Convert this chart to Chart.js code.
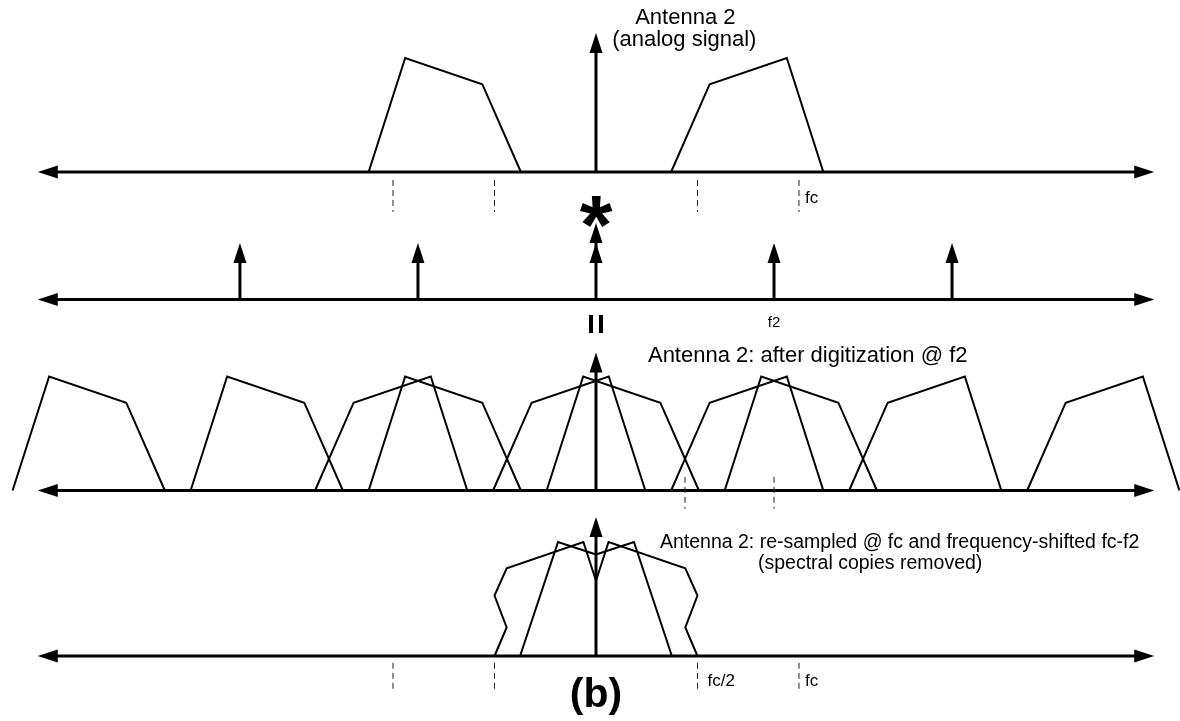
<!DOCTYPE html>
<html>
<head>
<meta charset="utf-8">
<title>Antenna 2 spectra</title>
<script src="https://cdn.jsdelivr.net/npm/chart.js@4.4.1/dist/chart.umd.min.js"></script>
<style>
  html, body { margin: 0; padding: 0; background: #fff; }
  #wrap { position: relative; width: 1180px; height: 721px; }
</style>
</head>
<body>
<div id="wrap"><canvas id="spectra"></canvas></div>
<script>
// frequency in units where fc = 100, amplitude in units where the band peak = 100
const fc = 100;
const f2 = 87.7;

// analog band above 0 Hz and its mirror below
const upperBandX = [37, 56, 94, 112];
const upperBandY = [0, 77, 100, 0];
const lowerBandX = [-112, -94, -56, -37];
const lowerBandY = [0, 100, 77, 0];

// after digitization @ f2 the band repeats at these multiples of f2
const copyOrders = [-2, -1, 0, 1, 2];

// sampling impulse train
const impulseOrders = [-2, -1, 1, 2];
const impulseHeight = 49.5;
const dcImpulseHeights = [49.5, 67];

// re-sampled @ fc and shifted by fc-f2 (copies removed)
const shiftOuterLowX = [-50, -44, -50, -44, -6.2, 0];
const shiftOuterLowY = [0, 25, 53, 77, 100, 66];
const shiftInnerLowX = [-37.4, -18.7, 0];
const shiftInnerLowY = [0, 100, 89];
const shiftInnerHighX = [0, 18.7, 37.4];
const shiftInnerHighY = [89, 100, 0];
const shiftOuterHighX = [0, 6.2, 44, 50, 44, 50];
const shiftOuterHighY = [66, 100, 77, 53, 25, 0];

// dashed frequency markers
const bandTicks = [-fc, -fc / 2, fc / 2, fc];
const sampleTicks = [f2 / 2, f2];

// 0 Hz arrow heights per panel
const dcArrowHeights = { p1: 122, p3: 121, p4: 122 };

const AXIS_END = 275;
const FONT = '"Liberation Sans", Arial, sans-serif';

// each panel gets its own amplitude scale, all spanning the full canvas height
const H = 721;
const PX_PER_UNIT = 1.14;
const panelBase = { p1: 172, p2: 299.5, p3: 490.5, p4: 656 };
const panelScale = b => ({
    type: 'linear', axis: 'y', position: 'left', display: false,
    min: -(H - b) / PX_PER_UNIT, max: b / PX_PER_UNIT
});

const xy = (xs, ys, dx = 0) => xs.map((x, i) => ({ x: x + dx, y: ys[i] }));
const trace = (data, panel) => ({
    data, yAxisID: panel,
    borderColor: '#000', borderWidth: 2,
    pointRadius: 0, showLine: true, fill: false, tension: 0
});

const datasets = [
    trace(xy(lowerBandX, lowerBandY), 'p1'),
    trace(xy(upperBandX, upperBandY), 'p1')
];
copyOrders.forEach(k => {
    datasets.push(trace(xy(lowerBandX, lowerBandY, k * f2), 'p3'));
    datasets.push(trace(xy(upperBandX, upperBandY, k * f2), 'p3'));
});
datasets.push(
    trace(xy(shiftOuterLowX, shiftOuterLowY), 'p4'),
    trace(xy(shiftInnerLowX, shiftInnerLowY), 'p4'),
    trace(xy(shiftInnerHighX, shiftInnerHighY), 'p4'),
    trace(xy(shiftOuterHighX, shiftOuterHighY), 'p4')
);

function head(ctx, tx, ty, dx, dy) {
    const len = 20, half = 6.5;
    const bx = tx - dx * len, by = ty - dy * len;
    ctx.beginPath();
    ctx.moveTo(tx, ty);
    ctx.lineTo(bx - dy * half, by + dx * half);
    ctx.lineTo(bx + dy * half, by - dx * half);
    ctx.closePath();
    ctx.fill();
}

function seg(ctx, x1, y1, x2, y2, w) {
    ctx.lineWidth = w;
    ctx.beginPath();
    ctx.moveTo(x1, y1);
    ctx.lineTo(x2, y2);
    ctx.stroke();
}

const diagram = {
    id: 'diagram',
    afterDatasetsDraw(chart) {
        const { ctx, scales } = chart;
        const px = v => scales.x.getPixelForValue(v);
        const py = (p, v) => scales[p].getPixelForValue(v);
        const text = (s, x, y, font, align = 'left') => {
            ctx.font = font;
            ctx.textAlign = align;
            ctx.textBaseline = 'alphabetic';
            ctx.fillText(s, x, y);
        };

        ctx.save();
        ctx.fillStyle = '#000';
        ctx.strokeStyle = '#000';
        ctx.lineCap = 'butt';

        // frequency axes with arrows at both ends
        Object.keys(panelBase).forEach(p => {
            const y0 = py(p, 0);
            seg(ctx, px(-AXIS_END) + 10, y0, px(AXIS_END) - 10, y0, 3);
            head(ctx, px(-AXIS_END), y0, -1, 0);
            head(ctx, px(AXIS_END), y0, 1, 0);
        });

        // 0 Hz arrows
        Object.entries(dcArrowHeights).forEach(([p, h]) => {
            const tip = py(p, h);
            seg(ctx, px(0), py(p, 0), px(0), tip + 12, 3);
            head(ctx, px(0), tip, 0, -1);
        });

        // sampling impulses
        impulseOrders.forEach(k => {
            const tip = py('p2', impulseHeight);
            seg(ctx, px(k * f2), py('p2', 0), px(k * f2), tip + 12, 3);
            head(ctx, px(k * f2), tip, 0, -1);
        });
        const dcTop = py('p2', Math.max(...dcImpulseHeights));
        seg(ctx, px(0), py('p2', 0), px(0), dcTop + 12, 3);
        dcImpulseHeights.forEach(h => head(ctx, px(0), py('p2', h), 0, -1));

        // dashed markers
        ctx.setLineDash([6, 4]);
        ctx.strokeStyle = '#222';
        bandTicks.forEach(f => {
            seg(ctx, px(f), py('p1', -7), px(f), py('p1', -35), 1);
            seg(ctx, px(f), py('p4', -6), px(f), py('p4', -32), 1);
        });
        sampleTicks.forEach(f => seg(ctx, px(f), py('p3', 12), px(f), py('p3', -16), 1));
        ctx.setLineDash([]);

        // marker labels
        const small = `17px ${FONT}`;
        text('fc', px(fc) + 6, py('p1', -27), small);
        text('fc/2', px(fc / 2) + 10, py('p4', -26.5), small);
        text('fc', px(fc) + 6, py('p4', -26.5), small);
        text('f2', px(f2), py('p2', -24), `15px ${FONT}`, 'center');

        // convolution and equals signs between the panels
        text('*', px(0), py('p1', -72), `bold 84px ${FONT}`, 'center');
        ctx.save();
        ctx.translate(px(0) - 0.5, py('p2', -21.5));
        ctx.rotate(Math.PI / 2);
        text('=', 0, 12.5, `bold 36px ${FONT}`, 'center');
        ctx.restore();

        // panel titles
        const title = `22px ${FONT}`;
        text('Antenna 2', px(44), py('p1', 130), title, 'center');
        text('(analog signal)', px(43.5), py('p1', 110.5), title, 'center');
        text('Antenna 2: after digitization @ f2', px(25.6), py('p3', 112.7), title);
        const note = `19.5px ${FONT}`;
        text('Antenna 2: re-sampled @ fc and frequency-shifted fc-f2', px(31.5), py('p4', 94.7), note);
        text('(spectral copies removed)', px(79.8), py('p4', 76.3), note);
        text('(b)', px(0), py('p4', -44.7), `bold 41px ${FONT}`, 'center');

        ctx.restore();
    }
};

new Chart(document.getElementById('spectra'), {
    type: 'scatter',
    data: { datasets },
    options: {
        responsive: true,
        maintainAspectRatio: false,
        animation: false,
        events: [],
        layout: { padding: 0 },
        plugins: { legend: { display: false }, tooltip: { enabled: false } },
        scales: {
            x: { type: 'linear', display: false, min: -293.6, max: 287.7 },
            p1: panelScale(panelBase.p1),
            p2: panelScale(panelBase.p2),
            p3: panelScale(panelBase.p3),
            p4: panelScale(panelBase.p4)
        }
    },
    plugins: [diagram]
});
</script>
</body>
</html>
